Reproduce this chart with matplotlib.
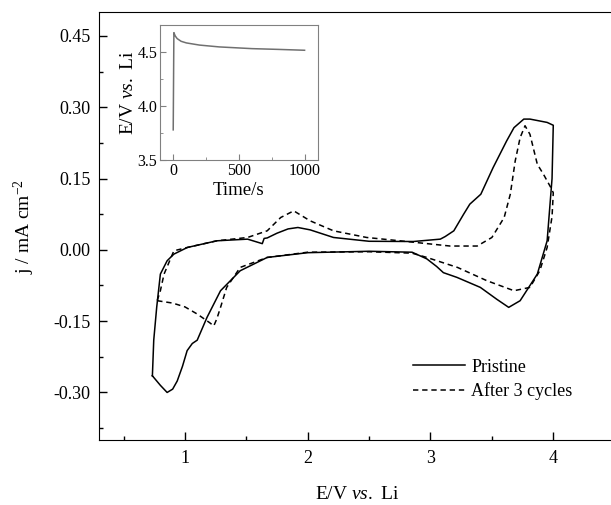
import matplotlib
matplotlib.use("Agg")
import matplotlib.pyplot as plt
from matplotlib.ticker import MultipleLocator

plt.rcParams['font.family'] = ['Liberation Serif', 'DejaVu Serif']
plt.rcParams['mathtext.fontset'] = 'custom'
plt.rcParams['mathtext.rm'] = 'Liberation Serif'
plt.rcParams['mathtext.it'] = 'Liberation Serif:italic'

# CV of pristine electrode (closed loop)
pristine_x = [0.735, 0.80, 0.855, 0.90, 0.937, 0.98, 1.018, 1.06, 1.10, 1.18, 1.29, 1.45,
              1.67, 2.0, 2.5, 2.85, 2.97, 3.05, 3.105, 3.216, 3.406, 3.54, 3.637, 3.73,
              3.87, 3.95, 3.99, 4.0, 3.95, 3.81, 3.76, 3.68, 3.62, 3.51, 3.41, 3.32, 3.27,
              3.19, 3.12, 3.08, 2.86, 2.5, 2.21, 2.02, 1.92, 1.84, 1.75, 1.67, 1.645, 1.63,
              1.51, 1.26, 1.02, 0.91, 0.855, 0.80, 0.77, 0.746, 0.735]
pristine_y = [-0.265, -0.285, -0.30, -0.293, -0.276, -0.245, -0.212, -0.197, -0.19, -0.142,
              -0.086, -0.044, -0.016, -0.006, -0.003, -0.005, -0.019, -0.035, -0.048, -0.058,
              -0.079, -0.104, -0.121, -0.107, -0.051, 0.019, 0.15, 0.262, 0.268, 0.275,
              0.275, 0.257, 0.229, 0.173, 0.117, 0.096, 0.075, 0.04, 0.028, 0.0225, 0.0175,
              0.018, 0.026, 0.042, 0.047, 0.044, 0.035, 0.025, 0.024, 0.013, 0.0225, 0.019,
              0.005, -0.009, -0.023, -0.051, -0.121, -0.19, -0.265]

# CV after 3 cycles
cycled_x = [0.774, 0.9, 1.0, 1.1, 1.2, 1.235, 1.26, 1.29, 1.34, 1.45, 1.67, 2.0, 2.5, 2.85,
            2.97, 3.22, 3.46, 3.68, 3.81, 3.89, 3.95, 3.99, 4.0, 3.98, 3.92, 3.87, 3.81,
            3.77, 3.73, 3.69, 3.65, 3.60, 3.50, 3.38, 3.16, 2.75, 2.48, 2.21, 2.02, 1.886,
            1.78, 1.67, 1.51, 1.26, 1.02, 0.91, 0.83, 0.80, 0.774]
cycled_y = [-0.107, -0.112, -0.12, -0.135, -0.153, -0.16, -0.145, -0.121, -0.079, -0.037,
            -0.016, -0.005, -0.004, -0.007, -0.016, -0.037, -0.065, -0.086, -0.079, -0.044,
            0.005, 0.07, 0.12, 0.131, 0.159, 0.18, 0.243, 0.261, 0.236, 0.187, 0.117, 0.068,
            0.026, 0.008, 0.008, 0.019, 0.026, 0.04, 0.061, 0.082, 0.068, 0.04, 0.026, 0.019,
            0.005, -0.002, -0.051, -0.086, -0.107]

# inset: potential vs time
time_s = [0, 5, 15, 30, 60, 100, 200, 350, 600, 800, 1000]
potential = [3.78, 4.68, 4.65, 4.625, 4.60, 4.585, 4.565, 4.548, 4.532, 4.525, 4.517]

fig = plt.figure(figsize=(6.11, 5.05), dpi=100)
ax = fig.add_axes([0.162, 0.1287, 0.844, 0.8473])

ax.plot(pristine_x, pristine_y, color='black', lw=1.1, label='Pristine')
ax.plot(cycled_x, cycled_y, color='black', lw=1.1, dashes=(3.5, 2.5), label='After 3 cycles')

ax.set_xlim(0.3, 4.5)
ax.set_ylim(-0.40, 0.50)
ax.set_xticks([1, 2, 3, 4])
ax.xaxis.set_minor_locator(MultipleLocator(0.5))
ax.set_yticks([-0.30, -0.15, 0.0, 0.15, 0.30, 0.45])
ax.set_yticklabels(['-0.30', '-0.15', '0.00', '0.15', '0.30', '0.45'])
ax.yaxis.set_minor_locator(MultipleLocator(0.075))
ax.tick_params(which='both', direction='in', labelsize=13, width=1)
ax.tick_params(axis='x', pad=7)
ax.tick_params(axis='y', pad=6)
ax.tick_params(which='major', length=6)
ax.tick_params(which='minor', length=3)
ax.spines['right'].set_visible(False)
ax.set_xlabel('E/V $\\mathit{vs.}$ Li', fontsize=14, labelpad=14)
ax.set_ylabel('j / mA cm$^{-2}$', fontsize=14, labelpad=12)

ax.legend(loc='upper left', bbox_to_anchor=(0.676, 0.290), bbox_transform=fig.transFigure,
          frameon=False, fontsize=13, handlelength=2.9, handletextpad=0.32,
          labelspacing=0.38, borderpad=0, borderaxespad=0)

ins = fig.add_axes([0.262, 0.683, 0.258, 0.2673])
ins.plot(time_s, potential, color='#707070', lw=1.1)
ins.set_xlim(-100, 1100)
ins.set_ylim(3.5, 4.75)
ins.set_xticks([0, 500, 1000])
ins.xaxis.set_minor_locator(MultipleLocator(250))
ins.set_yticks([3.5, 4.0, 4.5])
ins.yaxis.set_minor_locator(MultipleLocator(0.25))
ins.tick_params(which='both', direction='in', labelsize=11.5, color='#808080', pad=2)
ins.tick_params(which='major', length=4)
ins.tick_params(which='minor', length=2)
for s in ins.spines.values():
    s.set_color('#808080')
ins.set_xlabel('Time/s', fontsize=13.5, labelpad=2)
ins.set_ylabel('E/V $\\mathit{vs.}$ Li', fontsize=14, labelpad=0)

fig.savefig('out.png', dpi=100)
